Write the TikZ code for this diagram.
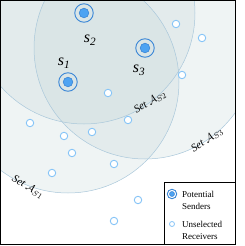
\documentclass[tikz,border=0pt]{standalone}
\usepackage{fontspec}
\setmainfont{Liberation Serif}
\usetikzlibrary{positioning}
\definecolor{sFill}{HTML}{4DA3F2}
\definecolor{sRing}{HTML}{3A86D6}
\definecolor{rRing}{HTML}{86C4F7}
\definecolor{setFill}{HTML}{BFD2D4}
\definecolor{setEdge}{HTML}{A9C7DA}
\tikzset{
  setdisk/.style={fill=setFill, fill opacity=0.25},
  setrim/.style={draw=setEdge, line width=0.5pt},
  sender/.style={circle, draw=sRing, line width=0.9pt, minimum size=#1, inner sep=0pt,
    path picture={\filldraw[fill=sFill, draw=sRing, line width=0.6pt]
      (path picture bounding box.center) circle (0.26*#1);}},
  sender/.default=18.5pt,
  receiver/.style={circle, draw=rRing, fill=white, line width=0.9pt, minimum size=#1,
    inner sep=0pt},
  receiver/.default=7.5pt,
  slabel/.style={font=\fontsize{16}{16}\selectfont\itshape, inner sep=0pt},
  setlabel/.style={font=\fontsize{11}{11}\selectfont\itshape, inner sep=0pt},
  legtext/.style={font=\fontsize{9}{12}\selectfont, align=left, anchor=west, inner sep=0pt},
}

\begin{document}
\begin{tikzpicture}[x=1pt, y=-1pt]
  \useasboundingbox (0,0) rectangle (245,246);
  \coordinate (p1) at (68,82);
  \coordinate (p2) at (84,13);
  \coordinate (p3) at (145,48);
  \begin{scope}
    \clip (0,0) rectangle (235,244);
    \fill[setdisk] (p1) circle (111pt);
    \fill[setdisk] (p2) circle (111pt);
    \fill[setdisk] (p3) circle (111pt);
    \draw[setrim] (p1) circle (111pt);
    \draw[setrim] (p2) circle (111pt);
    \draw[setrim] (p3) circle (111pt);
  \end{scope}
  \draw[line width=0.8pt] (0.5,0.5) rectangle (235,244);

  \node[sender] (s1) at (p1) {};
  \node[sender] (s2) at (p2) {};
  \node[sender] (s3) at (p3) {};
  \node[slabel] (l1) at (64,63) {s\textsubscript{1}};
  \node[slabel] (l2) at (90,40) {s\textsubscript{2}};
  \node[slabel] (l3) at (139,70) {s\textsubscript{3}};

  \node[receiver] (r1) at (176,24) {};
  \node[receiver] (r2) at (202,38) {};
  \node[receiver] (r3) at (182,75) {};
  \node[receiver] (r4) at (108,93) {};
  \node[receiver] (r5) at (128,120) {};
  \node[receiver] (r6) at (30,123) {};
  \node[receiver] (r7) at (92,132) {};
  \node[receiver] (r8) at (64,136) {};
  \node[receiver] (r9) at (72,153) {};
  \node[receiver] (r10) at (114,164) {};
  \node[receiver] (r11) at (52,173) {};
  \node[receiver] (r12) at (138,200) {};
  \node[receiver] (r13) at (114,221) {};

  \node[setlabel, rotate=32] (a2) at (150,102) {Set $\mathcal{A}_{S2}$};
  \node[setlabel, rotate=33] (a3) at (207,140) {Set $\mathcal{A}_{S3}$};
  \node[setlabel, rotate=-32] (a1) at (28,187) {Set $\mathcal{A}_{S1}$};

  \node[draw, fill=white, line width=0.8pt, minimum width=71pt, minimum height=62pt,
    anchor=north west, inner sep=0pt] (legend) at (164,182) {};
  \node[sender=9.5pt] (ks) at (172,194) {};
  \node[receiver=5pt, line width=0.8pt] (kr) at (172,224) {};
  \node[legtext] (ts) at (182,200) {Potential\\Senders};
  \node[legtext] (tr) at (182,230) {Unselected\\Receivers};
\end{tikzpicture}
\end{document}
